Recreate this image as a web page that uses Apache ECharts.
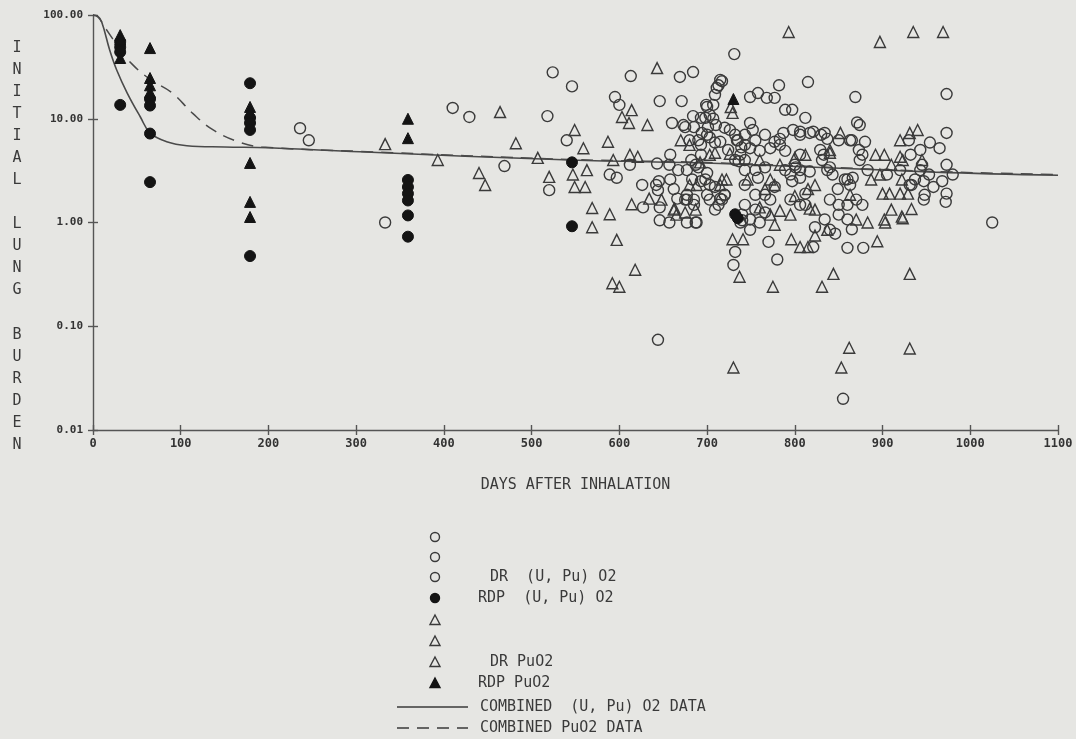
<!DOCTYPE html>
<html>
<head>
<meta charset="utf-8">
<script src="https://cdn.jsdelivr.net/npm/echarts@6/dist/echarts.min.js"></script>
<style>
html,body{margin:0;padding:0;background:#e6e6e3;}
#chart{width:1076px;height:739px;}
</style>
</head>
<body>
<div id="chart"></div>
<script>
// ---- data (days after inhalation, initial lung burden %) ----
var xTicks = [0,100,200,300,400,500,600,700,800,900,1000,1100];
var yTicks = [0.01,0.1,1,10,100];

var drUPu = [
[236,8.1],[246,6.2],[333,1.0],[410,12.7],[429,10.4],[469,3.5],[518,10.6],[524,28],[520,2.05],[540,6.2],[546,20.5],
[613,25.8],[669,25.3],[684,28.2],[595,16.2],[600,13.6],[646,14.8],[671,14.8],[699,13.6],[660,9.1],[675,8.3],[684,10.6],
[612,3.6],[597,2.7],[589,2.9],[626,2.3],[645,2.5],[644,2.05],[627,1.4],[646,1.4],[646,1.05],[658,4.5],[643,3.7],[666,1.7],
[667,3.2],[677,1.85],[677,1.0],
[644,0.074],[732,0.52],[730,0.39],[770,0.65],[780,0.44],[821,0.58],[855,0.02],[860,0.57],[878,0.57],[865,0.86],[846,0.78],
[740,1.05],[1025,1.0],
[731,42],[782,21],[815,22.6],[869,16.2],[973,17.3],[973,7.3],[715,23.7],[711,19.8],[709,17],[749,16.2],[758,17.7],[768,15.9],
[777,15.9],[789,12.2],[797,12.2],[812,10.2],[700,13],[720,8.2],[871,9.2],[874,8.7],[954,5.9],[965,5.2],[973,3.6],[980,2.9],
[973,1.9],[972,1.58],[958,2.2],[834,7.3],[830,7.0],[806,7.5],[821,7.5],[880,6.0],[968,2.5],
[698,10.2],[701,8.3],[694,7.3],[749,9.1],[752,7.8],[787,7.3],[798,7.8],[806,7.0],[817,7.3],
[709,5.9],[715,6.0],[743,5.6],[749,5.2],[760,4.9],[772,5.2],[783,5.6],[789,4.9],
[732,7.0],[735,6.2],[738,4.5],[732,4.0],[743,3.2],[755,3.2],[766,3.4],[789,3.2],[795,2.9],[806,3.2],[743,2.3],
[717,1.66],[720,1.85],[709,1.33],[755,1.85],[766,1.85],[772,1.66],[749,1.07],[738,1.0],[749,0.85],
[795,1.66],[806,1.48],[812,1.48],[834,1.07],[840,0.85],
[930,6.2],[932,4.5],[943,5.0],[937,2.6],[947,2.5],[953,2.9],[945,3.6],[943,3.2],[933,2.3],[948,1.85],[947,1.66],[905,2.9],
[863,6.2],[873,5.0],[877,4.5],[837,3.2],[843,2.9],[860,2.6],[863,2.3],[840,1.66],[850,1.48],[860,1.48],[870,1.66],[877,1.48],
[850,1.19],[860,1.07],[837,6.4],[850,6.2],[865,6.2],[833,4.5],
[680,6.2],[693,5.6],[703,6.6],[707,10],[707,13.6],[682,4.0],[687,3.6],[693,4.5],[677,3.2],[690,3.4],[700,3.0],[683,2.6],
[693,2.5],[703,2.3],[677,1.66],[685,1.48],[700,1.85],[703,1.66],[687,1.0],
[713,21],[717,23],[673,8.7],[685,8.3],[693,10.2],[703,10.9],[710,8.7],[690,6.2],[700,7.0],[657,3.6],[658,2.6],[662,2.1],
[642,2.3],[675,1.66],[685,1.66],[657,1.0],[688,1.0],[713,1.48],
[726,7.8],[743,7.0],[783,6.4],[758,2.7],[777,2.2],[812,1.9],[823,0.9],[766,1.25],[715,1.7],[736,3.9],[801,3.4],[806,4.5],
[734,6.2],[739,5.3],[724,5.0],[743,4.0],[800,3.6],[806,2.7],[797,2.5],[817,3.1],[743,1.48],[755,1.33],[760,1.0],[740,1.19],
[874,4.0],[883,3.2],[866,2.7],[840,3.4],[857,2.6],[849,2.1],[766,7.0],[777,6.0],[755,6.2],[698,2.6],[709,2.2],[720,1.85],
[829,5.0],[831,4.0],[931,2.3],[920,3.2]
];

var adpUPu = [
[31,55],[31,49],[31,44],[31,13.6],[65,15.5],[65,13.4],[65,7.2],[65,2.45],
[179,22],[179,10.2],[179,9.1],[179,7.8],[179,0.475],
[359,2.57],[359,2.2],[359,1.9],[359,1.63],[359,1.17],[359,0.73],
[546,3.8],[546,0.92],[732,1.2],[735,1.1]
];

var drPu = [
[333,5.7],[482,5.8],[393,4.0],[507,4.2],[440,3.0],[447,2.3],[520,2.75],[464,11.6],
[643,30.8],[614,12.1],[603,10.4],[611,9.1],[632,8.7],[549,7.8],[559,5.2],[587,6.0],[593,4.0],[612,4.5],[621,4.3],[563,3.2],
[547,2.9],[549,2.2],[561,2.2],[634,1.7],[614,1.5],[569,1.38],[589,1.2],[569,0.9],[663,1.36],[675,1.25],
[597,0.68],[618,0.35],[592,0.26],[600,0.24],[729,0.69],[741,0.69],[737,0.3],[775,0.24],[796,0.69],[806,0.58],[815,0.58],
[823,0.75],[844,0.32],[831,0.24],[862,0.062],[853,0.04],[730,0.04],[931,0.32],[931,0.061],[894,0.66],[903,1.0],[923,1.1],
[837,0.85],[777,0.95],
[793,68.5],[897,55],[935,68.5],[969,68.5],[920,6.2],[931,7.3],[940,7.8],[920,1.9],[929,1.9],[922,1.14],[933,1.35],[920,4.3],
[945,4.0],[840,4.7],[852,7.3],
[727,13],[729,11.4],[709,4.7],[703,4.5],[812,4.5],[840,5.0],[722,2.6],[715,2.3],[772,2.6],[777,2.3],[823,2.3],[772,1.19],
[783,1.3],[823,1.33],
[902,4.5],[910,3.6],[923,4.0],[900,1.9],[908,1.9],[902,1.07],[910,1.33],[883,1.0],[887,2.6],[897,2.9],[922,2.6],[870,1.07],
[892,4.5],[680,2.3],[687,1.33],[670,6.2],[680,5.6],[648,1.66],[662,1.33],[665,1.19],[717,2.6],[688,2.3],
[726,4.6],[760,4.0],[800,4.2],[783,3.6],[746,2.6],[815,2.1],[800,1.8],[760,1.4],
[766,2.1],[795,1.19],[863,1.85],[817,1.36],[692,3.8]
];

var adpPu = [
[31,64],[31,58],[31,38.5],[65,48],[65,24.7],[65,21],[65,18],
[179,13],[179,11.5],[179,3.75],[179,1.58],[179,1.13],
[359,10],[359,6.5],[730,15.5]
];

var combUPu = [[0,100],[5,98],[10,85],[19,46],[27,29.5],[39,17.7],[54,10.4],[65,7.3],[84,6.0],[107,5.5],[150,5.35],
[200,5.25],[304,4.8],[544,4.0],[715,3.7],[960,3.06],[1100,2.85]];
var combPu = [[0,100],[6,95],[14,75],[30,48],[44,34],[65,24],[90,17.8],[114,11.2],[137,7.8],[168,5.9],[192,5.35],
[304,4.85],[544,4.05],[715,3.75],[960,3.1],[1100,2.9]];

var legendRows = [
  {sym:'circleOpen', text:''},
  {sym:'circleOpen', text:''},
  {sym:'circleOpen', text:'DR  (U, Pu) O2'},
  {sym:'circleFill', text:'RDP  (U, Pu) O2'},
  {sym:'triOpen', text:''},
  {sym:'triOpen', text:''},
  {sym:'triOpen', text:'DR PuO2'},
  {sym:'triFill', text:'RDP PuO2'},
  {sym:'solid', text:'COMBINED  (U, Pu) O2 DATA'},
  {sym:'dashed', text:'COMBINED PuO2 DATA'}
];

// ---- styling ----
var INK = '#3a3a3a';
var FILL = '#141414';
var MONO = '"DejaVu Sans Mono", "Liberation Mono", monospace';

var chart = echarts.init(document.getElementById('chart'));

var rowY = [537,557,577,598,620,641,662,683,707,728];
var graphics = [];
legendRows.forEach(function(r, i){
  var y = rowY[i], cx = 435;
  if (r.sym === 'circleOpen' || r.sym === 'circleFill') {
    graphics.push({type:'circle', shape:{cx:cx, cy:y, r:4.5},
      style:{fill: r.sym==='circleFill'?FILL:'none', stroke: r.sym==='circleFill'?FILL:INK, lineWidth:1.4}});
  } else if (r.sym === 'triOpen' || r.sym === 'triFill') {
    graphics.push({type:'polygon', shape:{points:[[cx,y-5],[cx+5,y+4.5],[cx-5,y+4.5]]},
      style:{fill: r.sym==='triFill'?FILL:'none', stroke: r.sym==='triFill'?FILL:INK, lineWidth:1.4}});
  } else {
    graphics.push({type:'line', shape:{x1:397, y1:y, x2:468, y2:y},
      style:{stroke:INK, lineWidth:1.3, lineDash: r.sym==='dashed'?[12,8]:null}});
  }
  if (r.text) {
    var tx = (r.sym==='circleFill'||r.sym==='triFill') ? 478 : (r.sym==='solid'||r.sym==='dashed') ? 480 : 490;
    graphics.push({type:'text', x:tx, y:y,
      style:{text:r.text, font:'15px ' + MONO, fill:INK, textVerticalAlign:'middle', verticalAlign:'middle'}});
  }
});
graphics.push({type:'text', x:17, y:37,
  style:{text:'I\nN\nI\nT\nI\nA\nL\n\nL\nU\nN\nG\n\nB\nU\nR\nD\nE\nN', font:'15px ' + MONO, fill:INK,
    lineHeight:22.05, textAlign:'center', align:'center'}});

var openSym = {color:'rgba(0,0,0,0)', borderColor:INK, borderWidth:1.4, opacity:1};
var fillSym = {color:FILL, borderColor:FILL, borderWidth:1, opacity:1};

var option = {
  backgroundColor:'#e6e6e3',
  animation:false,
  grid:{left:93, right:18, top:15, bottom:309, containLabel:false},
  xAxis:[{
    type:'value', min:0, max:1100, interval:100,
    name:'DAYS AFTER INHALATION', nameLocation:'middle', nameGap:48,
    nameTextStyle:{fontFamily:MONO, fontSize:15, color:INK},
    axisLine:{lineStyle:{color:'#555', width:1.4}},
    axisTick:{length:5, lineStyle:{color:'#555', width:1.4}},
    axisLabel:{margin:8, color:'#333', fontFamily:MONO, fontSize:12, fontWeight:'bold',
      formatter:function(v){ return String(Math.round(v)); }},
    splitLine:{show:false}
  },{
    type:'value', min:0, max:1100, interval:100, position:'bottom',
    axisLine:{show:false}, axisLabel:{show:false}, splitLine:{show:false},
    axisTick:{inside:true, length:5, lineStyle:{color:'#555', width:1.4}}
  }],
  yAxis:[{
    type:'log', logBase:10, min:0.01, max:100,
    axisLine:{lineStyle:{color:'#555', width:1.4}},
    axisTick:{length:5, lineStyle:{color:'#555', width:1.4}},
    axisLabel:{margin:10, color:'#333', fontFamily:MONO, fontSize:11, fontWeight:'bold',
      formatter:function(v){ return Number(v).toFixed(2); }},
    splitLine:{show:false}, minorTick:{show:false}
  },{
    type:'log', logBase:10, min:0.01, max:100, position:'left',
    axisLine:{show:false}, axisLabel:{show:false}, splitLine:{show:false},
    axisTick:{inside:true, length:5, lineStyle:{color:'#555', width:1.4}}
  }],
  series:[
    {name:'COMBINED (U, Pu) O2 DATA', type:'line', data:combUPu, smooth:0.4, showSymbol:false, z:3,
      lineStyle:{color:'#4a4a4a', width:1.6}},
    {name:'COMBINED PuO2 DATA', type:'line', data:combPu, smooth:0.4, showSymbol:false, z:3,
      lineStyle:{color:'#4a4a4a', width:1.5, type:[12,8]}},
    {name:'DR (U, Pu) O2', type:'scatter', data:drUPu, symbol:'circle', symbolSize:11, itemStyle:openSym, z:4},
    {name:'DR PuO2', type:'scatter', data:drPu, symbol:'triangle', symbolSize:11, itemStyle:openSym, z:4},
    {name:'RDP (U, Pu) O2', type:'scatter', data:adpUPu, symbol:'circle', symbolSize:11, itemStyle:fillSym, z:5},
    {name:'RDP PuO2', type:'scatter', data:adpPu, symbol:'triangle', symbolSize:11, itemStyle:fillSym, z:5}
  ],
  graphic:graphics
};
chart.setOption(option);
</script>
</body>
</html>
